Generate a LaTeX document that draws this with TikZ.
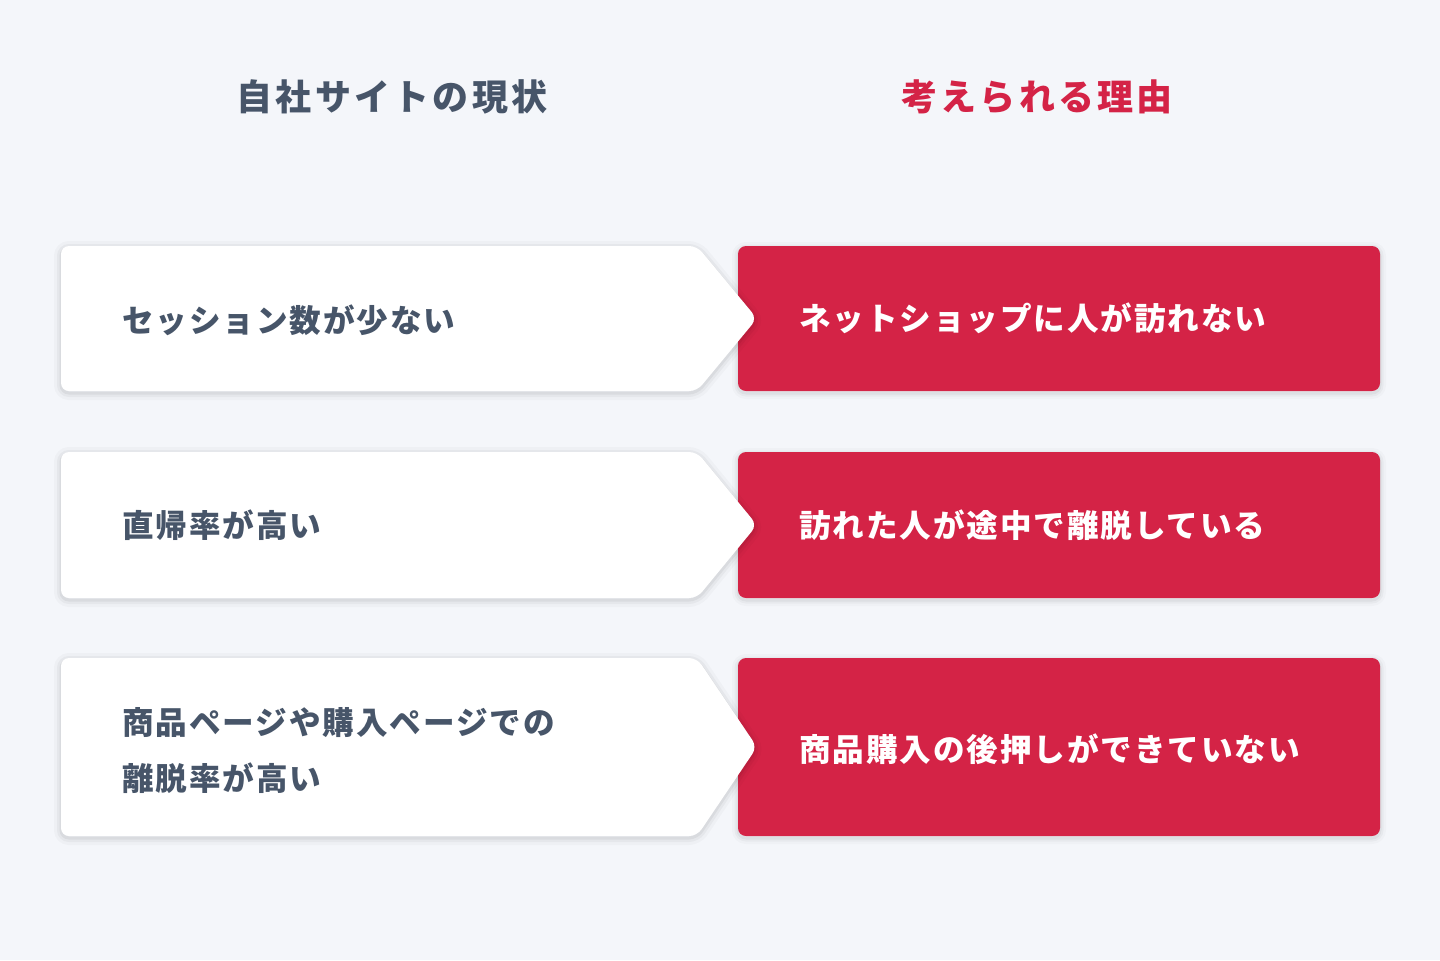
\documentclass[tikz,border=0pt]{standalone}
\usepackage{fontspec}
\usetikzlibrary{positioning}
\newfontfamily\jpfont{Noto Sans CJK JP}[LetterSpace=6]
\newfontfamily\headfont{Noto Sans CJK JP}[LetterSpace=9]
\definecolor{pagebg}{HTML}{F4F6FA}
\definecolor{slate}{HTML}{475569}
\definecolor{accent}{HTML}{D42346}
\tikzset{
  headtext/.style={font=\headfont\bfseries\fontsize{18}{20}\selectfont, inner sep=0pt},
  nowtext/.style={anchor=west, text=slate, align=left, inner sep=0pt,
    font=\jpfont\bfseries\fontsize{15.8}{28}\selectfont},
  whytext/.style={anchor=west, text=white, inner sep=0pt,
    font=\jpfont\bfseries\fontsize{15.8}{28}\selectfont},
  halo/.style={draw=black, line width=#1*0.5pt, rounded corners=4pt, fill=none},
}

\begin{document}
\begin{tikzpicture}[x=0.5pt,y=-0.5pt]
  \fill[pagebg] (0,0) rectangle (1440,960);

  % column heads
  \node[headtext, text=slate]  (headnow) at (392,97)  {自社サイトの現状};
  \node[headtext, text=accent] (headwhy) at (1037,97) {考えられる理由};

  % boxes: red reason box, then white arrow on top
  \foreach \t/\b in {246/391, 452/598, 658/836} {
    \pgfmathsetmacro\m{(\t+\b)/2}
    \begin{scope}[yshift=-1pt]
      \foreach \w/\o in {12/0.02, 7/0.03, 3/0.04}
        \draw[halo=\w, opacity=\o] (738,\t) rectangle (1380,\b);
    \end{scope}
    \fill[accent, rounded corners=4pt] (738,\t) rectangle (1380,\b);
    \begin{scope}[yshift=-1pt]
      \foreach \w/\o in {14/0.025, 8/0.035, 3/0.05}
        \draw[halo=\w, opacity=\o] (61,\t) -- (697,\t) -- (757,\m) -- (697,\b) -- (61,\b) -- cycle;
    \end{scope}
    \fill[white, rounded corners=4pt] (61,\t) -- (697,\t) -- (757,\m) -- (697,\b) -- (61,\b) -- cycle;
  }

  % current state
  \node[nowtext] (now1) at (122,320.5) {セッション数が少ない};
  \node[nowtext] (now2) at (122,525) {直帰率が高い};
  \node[nowtext] (now3) at (122,751) {商品ページや購入ページでの\\離脱率が高い};

  % possible reasons
  \node[whytext] (why1) at (799,318.5) {ネットショップに人が訪れない};
  \node[whytext] (why2) at (799,525) {訪れた人が途中で離脱している};
  \node[whytext] (why3) at (799,749) {商品購入の後押しができていない};
\end{tikzpicture}
\end{document}
